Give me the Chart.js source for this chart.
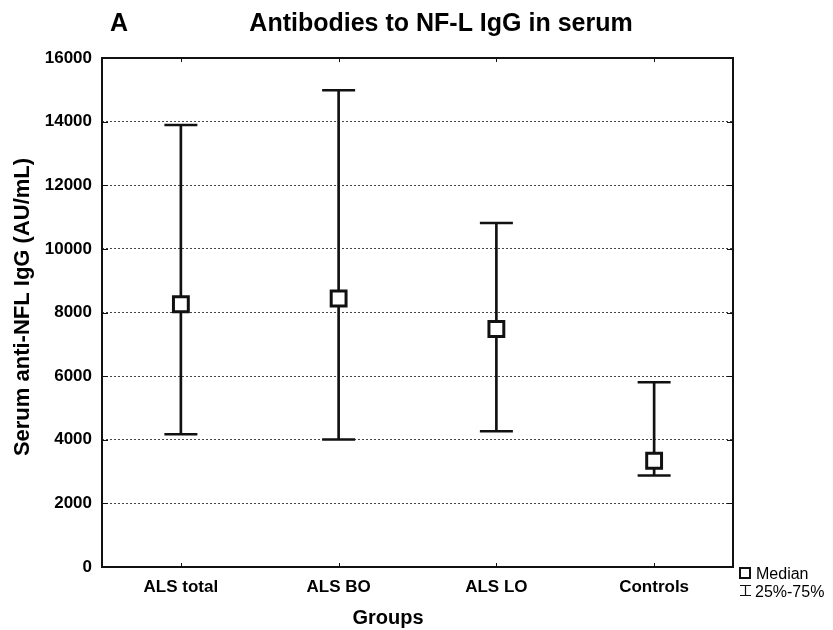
<!DOCTYPE html>
<html>
<head>
<meta charset="utf-8">
<script src="https://cdn.jsdelivr.net/npm/chart.js@4"></script>
<style>
  body { margin: 0; background: #fff; }
  #wrap { width: 833px; height: 630px; position: relative; }
</style>
</head>
<body>
<div id="wrap"><canvas id="chart"></canvas></div>
<script>
const groups = ['ALS total', 'ALS BO', 'ALS LO', 'Controls'];
const medians = [8260, 8440, 7480, 3340];
const lowerQuartile = [4170, 4010, 4270, 2880];
const upperQuartile = [13890, 14990, 10810, 5810];
const yTicks = [0, 2000, 4000, 6000, 8000, 10000, 12000, 14000, 16000];

const FONT = '"Liberation Sans", Arial, sans-serif';
const INK = '#111';

// inward tick marks, frame, titles and the little legend
const decorations = {
  id: 'decorations',
  beforeDatasetsDraw(chart) {
    const ctx = chart.ctx;
    const area = chart.chartArea;
    const x = chart.scales.x;
    const y = chart.scales.y;
    ctx.save();
    ctx.strokeStyle = INK;
    ctx.lineWidth = 1;
    ctx.beginPath();
    y.ticks.forEach((t, i) => {
      const py = Math.round(y.getPixelForTick(i)) + 0.5;
      ctx.moveTo(area.left, py);
      ctx.lineTo(area.left + 6, py);
      ctx.moveTo(area.right - 6, py);
      ctx.lineTo(area.right, py);
    });
    x.ticks.forEach((t, i) => {
      const px = Math.round(x.getPixelForTick(i)) + 0.5;
      ctx.moveTo(px, area.top);
      ctx.lineTo(px, area.top + 4);
      ctx.moveTo(px, area.bottom - 4);
      ctx.lineTo(px, area.bottom);
    });
    ctx.stroke();
    ctx.lineWidth = 2;
    ctx.strokeRect(area.left, area.top, area.right - area.left, area.bottom - area.top);
    ctx.restore();
  },
  afterDraw(chart) {
    const ctx = chart.ctx;
    ctx.save();
    ctx.fillStyle = '#000';
    ctx.textBaseline = 'alphabetic';

    ctx.font = 'bold 25px ' + FONT;
    ctx.textAlign = 'left';
    ctx.fillText('A', 110, 31);
    ctx.textAlign = 'center';
    ctx.fillText('Antibodies to NF-L IgG in serum', 441, 31);

    ctx.font = 'bold 20px ' + FONT;
    ctx.fillText('Groups', 388, 624);

    ctx.save();
    ctx.translate(29, 307);
    ctx.rotate(-Math.PI / 2);
    ctx.font = 'bold 22px ' + FONT;
    ctx.fillText('Serum anti-NFL IgG (AU/mL)', 0, 0);
    ctx.restore();

    // legend
    ctx.strokeStyle = INK;
    ctx.lineWidth = 2;
    ctx.strokeRect(740, 568, 10, 10);
    ctx.lineWidth = 1.2;
    ctx.beginPath();
    ctx.moveTo(740, 585.5); ctx.lineTo(751, 585.5);
    ctx.moveTo(745.5, 585.5); ctx.lineTo(745.5, 595.5);
    ctx.moveTo(740, 595.5); ctx.lineTo(751, 595.5);
    ctx.stroke();
    ctx.font = '16px ' + FONT;
    ctx.textAlign = 'left';
    ctx.fillText('Median', 756, 579);
    ctx.fillText('25%-75%', 755, 597);
    ctx.restore();
  }
};

function makeChart() {
  const ctx = document.getElementById('chart').getContext('2d');
  new Chart(ctx, {
    data: {
      labels: groups,
      datasets: [{
        type: 'line',
        label: 'Median',
        data: medians,
        showLine: false,
        pointStyle: 'rect',
        pointRadius: 10.5,
        pointBorderWidth: 3,
        pointBackgroundColor: '#fff',
        pointBorderColor: INK,
        order: 0
      }, {
        type: 'line',
        label: 'Upper',
        data: upperQuartile,
        showLine: false,
        pointStyle: 'line',
        pointRadius: 16.5,
        pointBorderWidth: 2.5,
        pointBorderColor: INK,
        order: 1
      }, {
        type: 'line',
        label: 'Lower',
        data: lowerQuartile,
        showLine: false,
        pointStyle: 'line',
        pointRadius: 16.5,
        pointBorderWidth: 2.5,
        pointBorderColor: INK,
        order: 1
      }, {
        type: 'bar',
        label: '25%-75%',
        data: groups.map((g, i) => [lowerQuartile[i], upperQuartile[i]]),
        backgroundColor: INK,
        barThickness: 2,
        order: 2
      }]
    },
    options: {
      responsive: true,
      maintainAspectRatio: false,
      animation: false,
      events: [],
      layout: { padding: { top: 58, right: 100, bottom: 0, left: 0 } },
      plugins: {
        legend: { display: false },
        tooltip: { enabled: false },
        title: { display: false }
      },
      scales: {
        x: {
          type: 'category',
          offset: true,
          grid: { display: false, drawTicks: false },
          border: { display: false },
          ticks: {
            color: '#000',
            padding: 10,
            maxRotation: 0,
            font: { family: FONT, size: 17, weight: 'bold' }
          },
          afterFit(scale) { scale.height = 63; }
        },
        y: {
          min: 0,
          max: 16000,
          afterBuildTicks(scale) { scale.ticks = yTicks.map(v => ({ value: v })); },
          grid: {
            drawTicks: false,
            color: '#444',
            lineWidth: 1
          },
          border: { display: false, dash: [2, 2] },
          ticks: {
            color: '#000',
            padding: 10,
            callback: value => String(value),
            font: { family: FONT, size: 17, weight: 'bold' }
          },
          afterFit(scale) { scale.width = 102; }
        }
      }
    },
    plugins: [decorations]
  });
}

document.addEventListener('DOMContentLoaded', makeChart);
</script>
</body>
</html>
